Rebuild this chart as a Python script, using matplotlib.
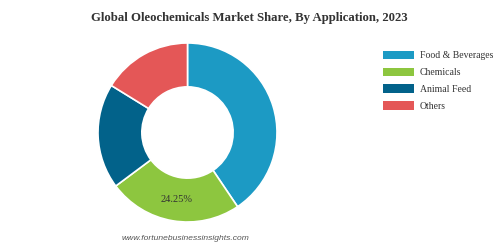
import numpy as np
import matplotlib.pyplot as plt
from matplotlib.patches import Patch

categories = ['Food & Beverages', 'Chemicals', 'Animal Feed', 'Others']
shares = [40.55, 24.25, 19.0, 16.2]
colors = ['#1c9ac4', '#8dc63f', '#02628a', '#e45757']
shown_label = '24.25%'

fig = plt.figure(figsize=(4.98, 2.48), dpi=100)
W, H = 498, 248

# donut: centre (187.5, 132.5) px, outer radius ~89.5 px
cx, cy, r = 187.5, 132.5, 89.5
ax = fig.add_axes([(cx - r) / W, 1 - (cy + r) / H, 2 * r / W, 2 * r / H])
wedges, _ = ax.pie(shares, colors=colors, startangle=90, counterclock=False,
                   radius=1.0, wedgeprops=dict(width=0.49, edgecolor='white', linewidth=1.2))
ax.set_aspect('equal')
ax.set_xlim(-1, 1)
ax.set_ylim(-1, 1)

# label on the chemicals wedge
start = 90 - shares[0] * 3.6
mid = np.deg2rad(start - shares[1] * 3.6 / 2)
rr = 1 - 0.49 / 2
ax.text(rr * np.cos(mid), rr * np.sin(mid), shown_label, ha='center', va='center',
        fontsize=7.5, family='Liberation Serif', color='#333333')

fig.text(0.5, 1 - 18 / H, 'Global Oleochemicals Market Share, By Application, 2023',
         ha='center', va='center', fontsize=9.15, fontweight='bold',
         family='Liberation Serif', color='#333333')

handles = [Patch(facecolor=c, edgecolor='none') for c in colors]
fig.legend(handles, categories, loc='upper left', bbox_to_anchor=(374 / W, 1 - 42 / H),
           frameon=False, prop=dict(family='Liberation Serif', size=7),
           labelcolor='#333333', handlelength=3.2, handleheight=0.95,
           labelspacing=0.75, handletextpad=0.6)

fig.text(122 / W, 1 - 238 / H, 'www.fortunebusinessinsights.com', ha='left', va='center',
         fontsize=6.1, style='italic', family='Liberation Sans', color='#555555')

fig.savefig('out.png', dpi=100)
